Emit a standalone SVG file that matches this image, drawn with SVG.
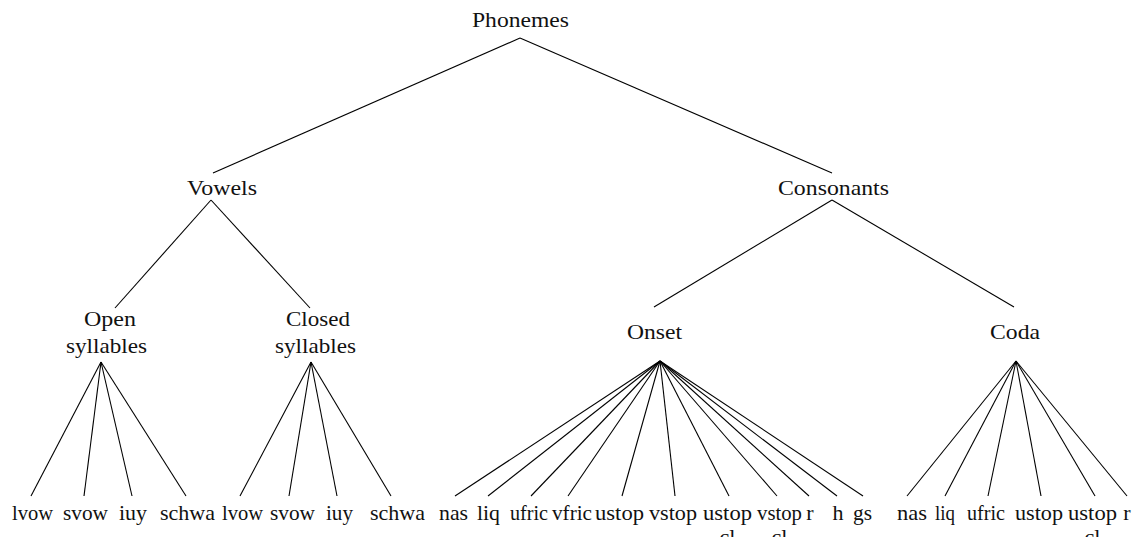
<svg xmlns="http://www.w3.org/2000/svg" width="1136" height="537" viewBox="0 0 1136 537">
<style>
text{font-family:"Liberation Serif","Times New Roman",serif;font-size:22px;fill:#111;text-anchor:middle}
.c line{stroke:#000;stroke-width:1.1;fill:none}
</style>
<rect width="1136" height="537" fill="#fff"/>
<g class="c" id="connectors">
<line x1="520" y1="38" x2="213" y2="173"/>
<line x1="520" y1="38" x2="832" y2="173"/>
<line x1="211" y1="200" x2="115" y2="308"/>
<line x1="211" y1="200" x2="310" y2="308"/>
<line x1="832" y1="200" x2="654" y2="307"/>
<line x1="832" y1="200" x2="1014" y2="307"/>
<line x1="101" y1="362" x2="31" y2="496"/>
<line x1="101" y1="362" x2="84" y2="496"/>
<line x1="101" y1="362" x2="132" y2="496"/>
<line x1="101" y1="362" x2="186" y2="496"/>
<line x1="311" y1="362" x2="240" y2="496"/>
<line x1="311" y1="362" x2="289" y2="496"/>
<line x1="311" y1="362" x2="337" y2="496"/>
<line x1="311" y1="362" x2="391" y2="496"/>
<line x1="660" y1="361" x2="455" y2="496"/>
<line x1="660" y1="361" x2="488" y2="496"/>
<line x1="660" y1="361" x2="531" y2="496"/>
<line x1="660" y1="361" x2="568" y2="496"/>
<line x1="660" y1="361" x2="622" y2="496"/>
<line x1="660" y1="361" x2="675" y2="496"/>
<line x1="660" y1="361" x2="729" y2="496"/>
<line x1="660" y1="361" x2="777" y2="496"/>
<line x1="660" y1="361" x2="809" y2="496"/>
<line x1="660" y1="361" x2="837" y2="496"/>
<line x1="660" y1="361" x2="863" y2="496"/>
<line x1="1016" y1="361" x2="907" y2="496"/>
<line x1="1016" y1="361" x2="945" y2="496"/>
<line x1="1016" y1="361" x2="988" y2="496"/>
<line x1="1016" y1="361" x2="1041" y2="496"/>
<line x1="1016" y1="361" x2="1095" y2="496"/>
<line x1="1016" y1="361" x2="1127" y2="496"/>
</g>
<g id="phonemes"><text x="520.5" y="27" textLength="97" lengthAdjust="spacingAndGlyphs">Phonemes</text></g>
<g id="vowels"><text x="222" y="195" textLength="70" lengthAdjust="spacingAndGlyphs">Vowels</text></g>
<g id="consonants"><text x="833.5" y="195" textLength="111" lengthAdjust="spacingAndGlyphs">Consonants</text></g>
<g id="open"><text x="110" y="326" textLength="52" lengthAdjust="spacingAndGlyphs">Open</text><text x="106.5" y="353" textLength="81" lengthAdjust="spacingAndGlyphs">syllables</text></g>
<g id="closed"><text x="318" y="326" textLength="64" lengthAdjust="spacingAndGlyphs">Closed</text><text x="315.5" y="353" textLength="81" lengthAdjust="spacingAndGlyphs">syllables</text></g>
<g id="onset"><text x="654.5" y="339" textLength="55" lengthAdjust="spacingAndGlyphs">Onset</text></g>
<g id="coda"><text x="1015" y="339" textLength="50" lengthAdjust="spacingAndGlyphs">Coda</text></g>
<g id="o-lvow"><text x="32.5" y="520" textLength="41" lengthAdjust="spacingAndGlyphs">lvow</text></g>
<g id="o-svow"><text x="85.5" y="520" textLength="45" lengthAdjust="spacingAndGlyphs">svow</text></g>
<g id="o-iuy"><text x="133" y="520" textLength="28" lengthAdjust="spacingAndGlyphs">iuy</text></g>
<g id="o-schwa"><text x="187.5" y="520" textLength="55" lengthAdjust="spacingAndGlyphs">schwa</text></g>
<g id="c-lvow"><text x="242.5" y="520" textLength="41" lengthAdjust="spacingAndGlyphs">lvow</text></g>
<g id="c-svow"><text x="292.5" y="520" textLength="45" lengthAdjust="spacingAndGlyphs">svow</text></g>
<g id="c-iuy"><text x="339.5" y="520" textLength="27" lengthAdjust="spacingAndGlyphs">iuy</text></g>
<g id="c-schwa"><text x="397.5" y="520" textLength="55" lengthAdjust="spacingAndGlyphs">schwa</text></g>
<g id="on-nas"><text x="453.5" y="520" textLength="29" lengthAdjust="spacingAndGlyphs">nas</text></g>
<g id="on-liq"><text x="488.5" y="520" textLength="23" lengthAdjust="spacingAndGlyphs">liq</text></g>
<g id="on-ufric"><text x="529" y="520" textLength="38" lengthAdjust="spacingAndGlyphs">ufric</text></g>
<g id="on-vfric"><text x="572" y="520" textLength="40" lengthAdjust="spacingAndGlyphs">vfric</text></g>
<g id="on-ustop"><text x="619.5" y="520" textLength="49" lengthAdjust="spacingAndGlyphs">ustop</text></g>
<g id="on-vstop"><text x="673" y="520" textLength="48" lengthAdjust="spacingAndGlyphs">vstop</text></g>
<g id="on-ustopcl"><text x="727.5" y="520" textLength="49" lengthAdjust="spacingAndGlyphs">ustop</text><text x="727.5" y="544">cl</text></g>
<g id="on-vstopcl"><text x="779.5" y="520" textLength="45" lengthAdjust="spacingAndGlyphs">vstop</text><text x="779.5" y="544">cl</text></g>
<g id="on-r"><text x="810" y="520">r</text></g>
<g id="on-h"><text x="838" y="520">h</text></g>
<g id="on-gs"><text x="862.5" y="520" textLength="19" lengthAdjust="spacingAndGlyphs">gs</text></g>
<g id="co-nas"><text x="912" y="520" textLength="30" lengthAdjust="spacingAndGlyphs">nas</text></g>
<g id="co-liq"><text x="945" y="520" textLength="20" lengthAdjust="spacingAndGlyphs">liq</text></g>
<g id="co-ufric"><text x="986" y="520" textLength="38" lengthAdjust="spacingAndGlyphs">ufric</text></g>
<g id="co-ustop"><text x="1039" y="520" textLength="48" lengthAdjust="spacingAndGlyphs">ustop</text></g>
<g id="co-ustopcl"><text x="1092.5" y="520" textLength="49" lengthAdjust="spacingAndGlyphs">ustop</text><text x="1092.5" y="544">cl</text></g>
<g id="co-r"><text x="1127" y="520">r</text></g>
</svg>
